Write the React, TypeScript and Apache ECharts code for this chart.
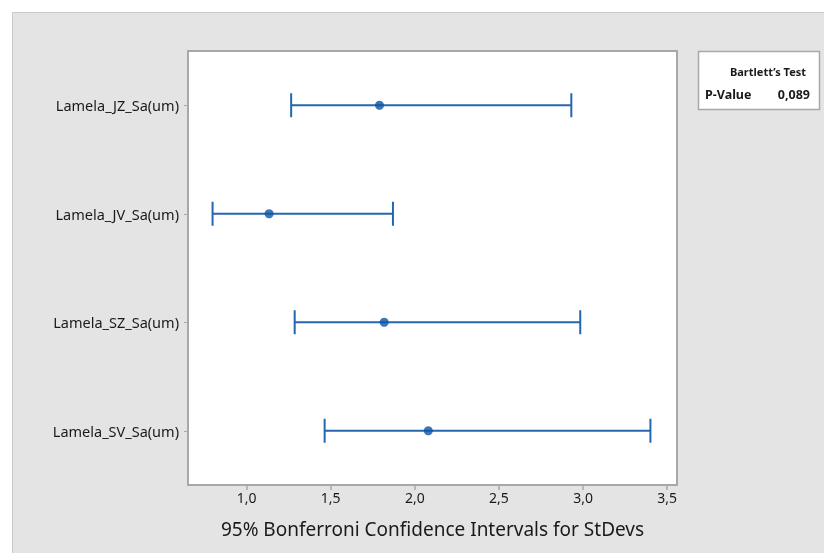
import React, { useEffect, useRef } from "react";
import * as echarts from "echarts";

const categories = [
  "Lamela_JZ_Sa(um)",
  "Lamela_JV_Sa(um)",
  "Lamela_SZ_Sa(um)",
  "Lamela_SV_Sa(um)",
];
const lowerCI = [1.265, 0.798, 1.286, 1.464];
const stdevs = [1.79, 1.134, 1.818, 2.08];
const upperCI = [2.93, 1.87, 2.983, 3.4];
const xTicks = [1.0, 1.5, 2.0, 2.5, 3.0, 3.5];
const testTitle = "Bartlett’s Test";
const pLabel = "P-Value";
const pValue = "0,089";
const xName = "95% Bonferroni Confidence Intervals for StDevs";

const FONT = "'Noto Sans', 'Open Sans', sans-serif";
const LINE = "#2466b0";
const DOT = "#0a55a3";

export default function App() {
  const ref = useRef<HTMLDivElement>(null);
  useEffect(() => {
    if (!ref.current) return;
    const chart = echarts.init(ref.current, undefined, { renderer: "svg" });
    const errData = categories.map((_, i) => [i, lowerCI[i], upperCI[i]]);
    chart.setOption({
      animation: false,
      textStyle: { fontFamily: FONT },
      graphic: [
        {
          type: "rect",
          z: -10,
          shape: { x: 12.5, y: 12.5, width: 830, height: 560 },
          style: { fill: "#e4e4e4", stroke: "#cacaca", lineWidth: 1 },
          silent: true,
        },
        {
          type: "rect",
          shape: { x: 698.5, y: 51.5, width: 121, height: 58 },
          style: { fill: "#ffffff", stroke: "#a8a8a8", lineWidth: 1.5 },
        },
        {
          type: "text",
          x: 768,
          y: 71,
          style: {
            text: testTitle,
            fontFamily: FONT,
            fontSize: 11,
            fontWeight: "bold",
            fill: "#1a1a1a",
            align: "center",
            verticalAlign: "middle",
          },
        },
        {
          type: "text",
          x: 705,
          y: 94,
          style: {
            text: pLabel,
            fontFamily: FONT,
            fontSize: 12.5,
            fontWeight: "bold",
            fill: "#1a1a1a",
            align: "left",
            verticalAlign: "middle",
          },
        },
        {
          type: "text",
          x: 810,
          y: 94,
          style: {
            text: pValue,
            fontFamily: FONT,
            fontSize: 12.5,
            fontWeight: "bold",
            fill: "#1a1a1a",
            align: "right",
            verticalAlign: "middle",
          },
        },
      ],
      grid: {
        left: 188,
        right: 147,
        top: 51,
        bottom: 68,
        show: true,
        backgroundColor: "#ffffff",
        borderColor: "#a8a8a8",
        borderWidth: 2,
      },
      xAxis: {
        type: "value",
        min: 0.652,
        max: 3.558,
        name: xName,
        nameLocation: "middle",
        nameGap: 34,
        nameTextStyle: { fontSize: 19, color: "#1a1a1a", fontFamily: FONT },
        axisLine: { show: false },
        splitLine: { show: false },
        axisTick: {
          show: true,
          length: 5,
          customValues: xTicks,
          lineStyle: { color: "#a8a8a8", width: 1.5 },
        },
        axisLabel: {
          customValues: xTicks,
          margin: 5,
          fontSize: 14,
          color: "#1a1a1a",
          formatter: (v: number) => v.toFixed(1).replace(".", ","),
        },
      },
      yAxis: {
        type: "category",
        data: categories,
        inverse: true,
        axisLine: { show: false },
        splitLine: { show: false },
        axisTick: {
          show: true,
          alignWithLabel: true,
          length: 4,
          lineStyle: { color: "#a8a8a8" },
        },
        axisLabel: { margin: 9, fontSize: 14.5, color: "#1a1a1a" },
      },
      series: [
        {
          type: "custom",
          data: errData,
          encode: { x: [1, 2], y: 0 },
          renderItem: (params: any, api: any) => {
            const cat = api.value(0);
            const lo = api.coord([api.value(1), cat]);
            const hi = api.coord([api.value(2), cat]);
            const h = 12;
            const style = { stroke: LINE, lineWidth: 2, fill: "none" };
            return {
              type: "group",
              children: [
                { type: "line", shape: { x1: lo[0], y1: lo[1], x2: hi[0], y2: hi[1] }, style },
                { type: "line", shape: { x1: lo[0], y1: lo[1] - h, x2: lo[0], y2: lo[1] + h }, style },
                { type: "line", shape: { x1: hi[0], y1: hi[1] - h, x2: hi[0], y2: hi[1] + h }, style },
              ],
            };
          },
          z: 2,
        },
        {
          type: "scatter",
          data: stdevs.map((v, i) => [v, i]),
          symbol: "circle",
          symbolSize: 9,
          itemStyle: { color: DOT },
          z: 3,
        },
      ],
    });
    return () => chart.dispose();
  }, []);
  return (
    <div
      ref={ref}
      style={{ position: "fixed", left: 0, top: 0, width: 824, height: 553 }}
    />
  );
}
